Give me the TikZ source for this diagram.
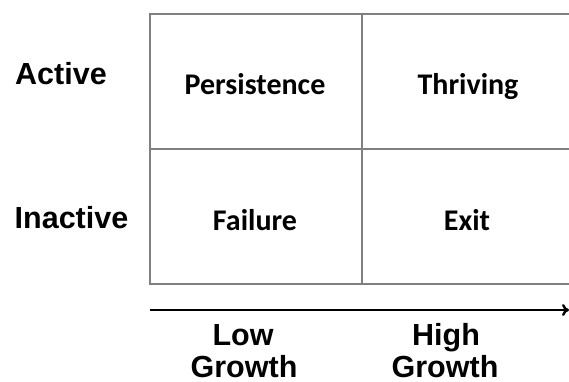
\documentclass[tikz,border=0pt]{standalone}
\usepackage{fontspec}
\setmainfont{Liberation Sans}
\newfontfamily\cellfont{Carlito}
\usetikzlibrary{arrows.meta}
\begin{document}
\begin{tikzpicture}[x=1pt,y=-1pt,
  gridline/.style={draw=black!50,line width=2pt},
  axislabel/.style={font=\fontsize{30.5}{34}\selectfont\bfseries,anchor=base,inner sep=0pt},
  celllabel/.style={font=\cellfont\fontsize{30}{34}\selectfont\bfseries,anchor=base,inner sep=0pt},
  axisline/.style={draw=black,line width=2.4pt,-{To[length=7pt,width=12pt]}}]
\useasboundingbox (0,0) rectangle (569,382);
\clip (0,0) rectangle (569,382);
% grid
\coordinate (tl) at (150,14);
\coordinate (tr) at (580,14);
\coordinate (ml) at (150,149);
\coordinate (mr) at (580,149);
\coordinate (bl) at (150,284);
\coordinate (br) at (580,284);
\coordinate (vt) at (362,14);
\coordinate (vb) at (362,284);
\draw[gridline] (tr) -- (tl) -- (bl) -- (br);
\draw[gridline] (ml) -- (mr);
\draw[gridline] (vt) -- (vb);
% cells
\node[celllabel] (persist) at (255,95) {Persistence};
\node[celllabel] (thrive) at (468,95) {Thriving};
\node[celllabel] (fail) at (255,230) {Failure};
\node[celllabel] (exit) at (467,230) {Exit};
% row labels
\node[axislabel] (active) at (61,85) {Active};
\node[axislabel] (inactive) at (71.5,228) {Inactive};
% axis
\coordinate (a0) at (150,310);
\coordinate (a1) at (569,310);
\draw[axisline] (a0) -- (a1);
\node[axislabel] (low) at (243,345) {Low};
\node[axislabel] (lowg) at (244,377) {Growth};
\node[axislabel] (high) at (446,345) {High};
\node[axislabel] (highg) at (445,377) {Growth};
\end{tikzpicture}
\end{document}
